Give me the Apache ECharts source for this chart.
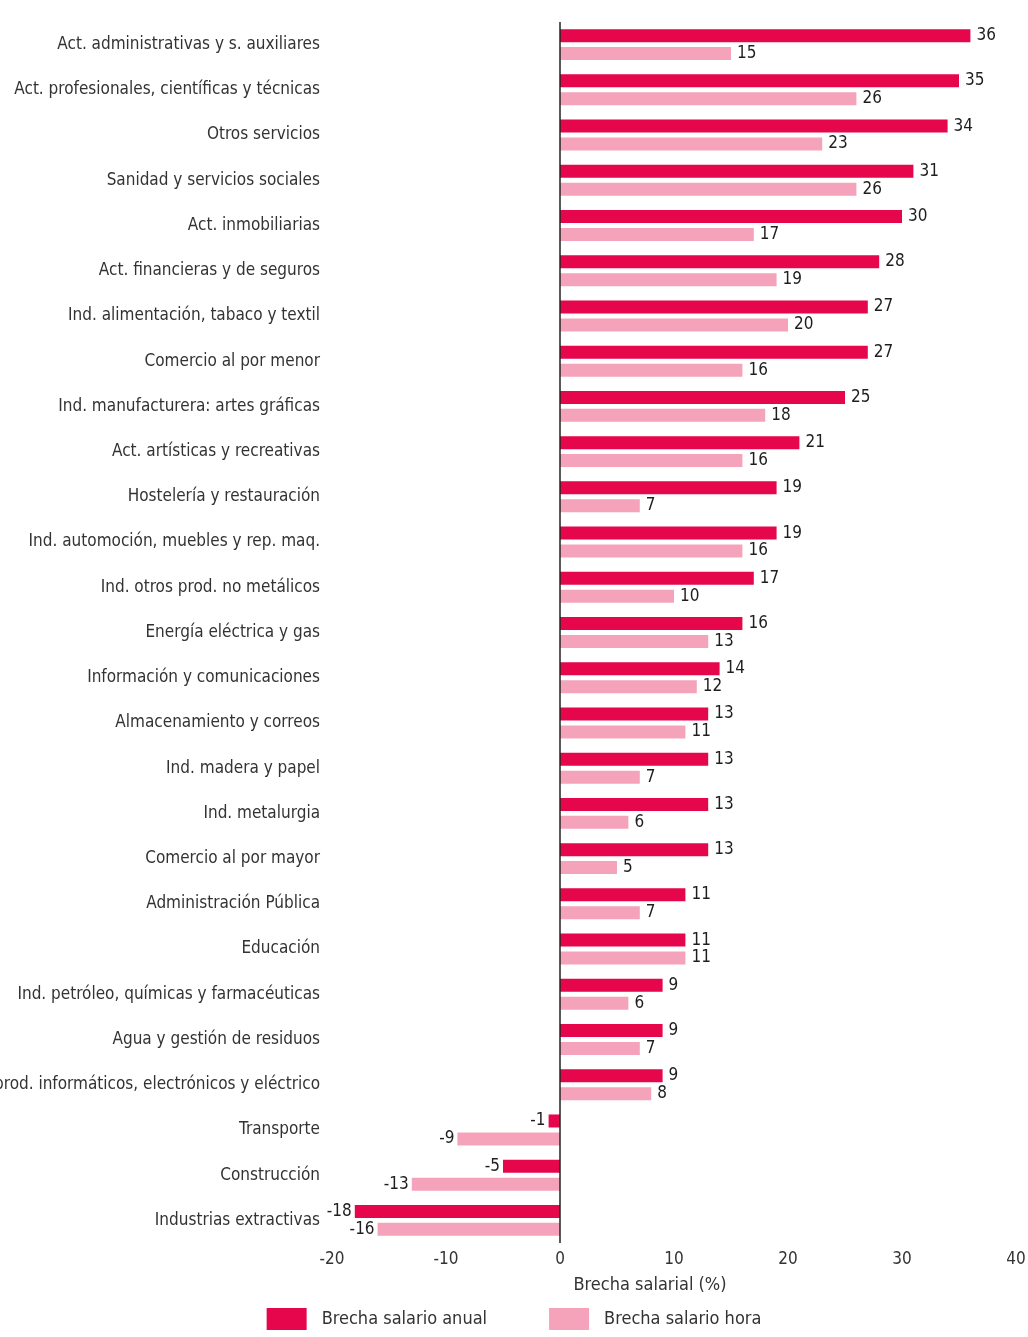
<!DOCTYPE html>
<html>
<head>
<meta charset="utf-8">
<script src="https://cdn.jsdelivr.net/npm/echarts@6/dist/echarts.min.js"></script>
<style>
  html, body { margin: 0; padding: 0; background: #ffffff; }
  #chart { width: 1028px; height: 1337px; }
</style>
</head>
<body>
<div id="chart"></div>
<script>
// Sectores de actividad, de mayor a menor brecha anual
const sectores = [
  'Act. administrativas y s. auxiliares',
  'Act. profesionales, científicas y técnicas',
  'Otros servicios',
  'Sanidad y servicios sociales',
  'Act. inmobiliarias',
  'Act. financieras y de seguros',
  'Ind. alimentación, tabaco y textil',
  'Comercio al por menor',
  'Ind. manufacturera: artes gráficas',
  'Act. artísticas y recreativas',
  'Hostelería y restauración',
  'Ind. automoción, muebles y rep. maq.',
  'Ind. otros prod. no metálicos',
  'Energía eléctrica y gas',
  'Información y comunicaciones',
  'Almacenamiento y correos',
  'Ind. madera y papel',
  'Ind. metalurgia',
  'Comercio al por mayor',
  'Administración Pública',
  'Educación',
  'Ind. petróleo, químicas y farmacéuticas',
  'Agua y gestión de residuos',
  'Ind. prod. informáticos, electrónicos y eléctrico',
  'Transporte',
  'Construcción',
  'Industrias extractivas'
];

// Brecha salarial anual (%)
const brechaAnual = [36, 35, 34, 31, 30, 28, 27, 27, 25, 21, 19, 19, 17, 16, 14, 13, 13, 13, 13, 11, 11, 9, 9, 9, -1, -5, -18];

// Brecha salarial por hora (%)
const brechaHora = [15, 26, 23, 26, 17, 19, 20, 16, 18, 16, 7, 16, 10, 13, 12, 11, 7, 6, 5, 7, 11, 6, 7, 8, -9, -13, -16];

// Marcas del eje de valores
const ejeMin = -20;
const ejeMax = 40;
const ejePaso = 10;

const FONT = "'DejaVu Sans Condensed', 'Liberation Sans Narrow', Roboto, sans-serif";
const TEXT = '#333333';
const ROJO = '#e6064c';
const ROSA = '#f5a3bb';

// Etiqueta a la derecha para valores positivos y a la izquierda para negativos
function conEtiquetas(valores) {
  return valores.map(v => ({
    value: v,
    label: v < 0 ? { position: 'left', distance: 3 } : { position: 'right' }
  }));
}

const chart = echarts.init(document.getElementById('chart'), null, { renderer: 'canvas' });

chart.setOption({
  backgroundColor: '#ffffff',
  animation: false,
  textStyle: { fontFamily: FONT },
  grid: { left: 332, right: 12, top: 22, bottom: 94, containLabel: false, outerBoundsMode: 'none' },
  legend: {
    bottom: 2,
    left: 'center',
    itemWidth: 40,
    itemHeight: 22,
    itemGap: 62,
    icon: 'rect',
    textStyle: { fontFamily: FONT, fontSize: 18, color: TEXT, padding: [0, 0, 0, 10] },
    data: ['Brecha salario anual', 'Brecha salario hora']
  },
  xAxis: {
    type: 'value',
    min: ejeMin,
    max: ejeMax,
    interval: ejePaso,
    name: 'Brecha salarial (%)',
    nameLocation: 'middle',
    nameGap: 33,
    nameTextStyle: { fontFamily: FONT, fontSize: 18, color: TEXT, padding: [0, 48, 0, 0] },
    axisLine: { show: false },
    axisTick: { show: false },
    splitLine: { show: false },
    axisLabel: { fontFamily: FONT, fontSize: 17, color: TEXT, margin: 8 }
  },
  yAxis: {
    type: 'category',
    data: sectores,
    inverse: true,
    axisLine: { show: false, onZero: false },
    axisTick: { show: false },
    axisLabel: { fontFamily: FONT, fontSize: 17, color: TEXT, margin: 12 }
  },
  series: [
    {
      name: 'Brecha salario anual',
      type: 'bar',
      data: conEtiquetas(brechaAnual),
      barWidth: 13,
      barGap: '38%',
      itemStyle: { color: ROJO },
      label: {
        show: true,
        distance: 6,
        fontFamily: FONT,
        fontSize: 17,
        color: '#1e1e1e'
      },
      markLine: {
        silent: true,
        symbol: 'none',
        label: { show: false },
        lineStyle: { color: '#222', type: 'solid', width: 1.5 },
        data: [{ xAxis: 0 }]
      },
      z: 2
    },
    {
      name: 'Brecha salario hora',
      type: 'bar',
      data: conEtiquetas(brechaHora),
      barWidth: 13,
      itemStyle: { color: ROSA },
      label: {
        show: true,
        distance: 6,
        fontFamily: FONT,
        fontSize: 17,
        color: '#1e1e1e'
      },
      z: 2
    }
  ]
});
</script>
</body>
</html>
